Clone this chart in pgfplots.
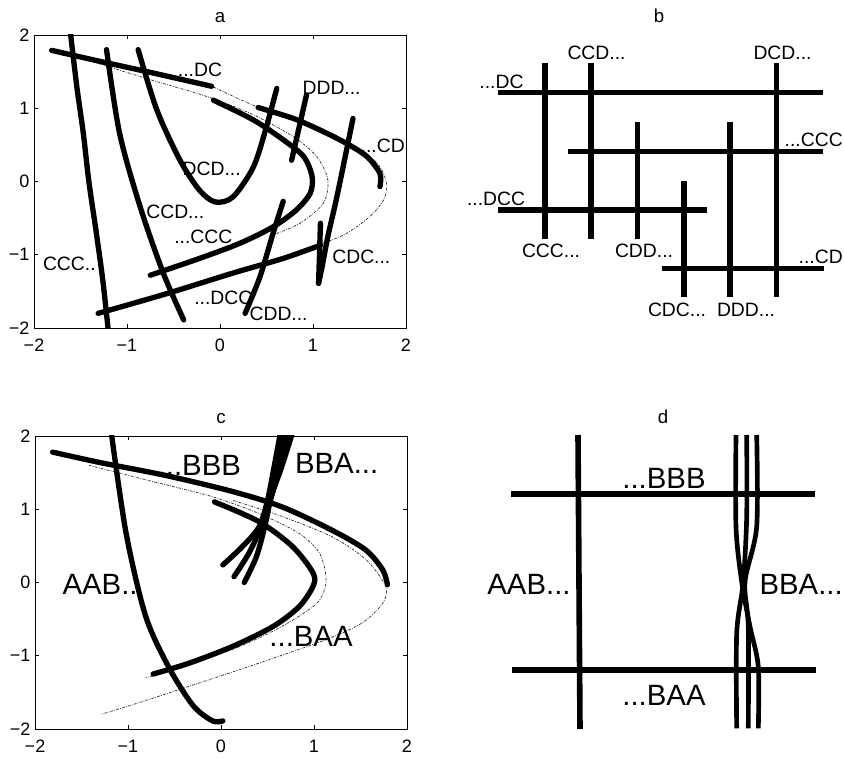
\documentclass[border=0pt]{standalone}
\usepackage{fontspec}
\setmainfont{Liberation Sans}
\usepackage{pgfplots}
\pgfplotsset{compat=1.18}
\tikzset{
 lab/.style={font=\fontsize{14.5}{16}\selectfont, inner sep=0pt},
 big/.style={font=\fontsize{22}{24}\selectfont, inner sep=0pt},
}
\begin{document}
\begin{tikzpicture}
\pgfplotsset{
 panel/.style={scale only axis, width=279pt, height=219.75pt,
   xmin=-2,xmax=2,ymin=-2,ymax=2,
   xtick={-2,-1,0,1,2}, ytick={-2,-1,0,1,2},
   xticklabels={−2,−1,0,1,2}, yticklabels={−2,−1,0,1,2},
   tick align=inside, major tick length=3pt,
   axis line style={line width=0.6pt},
   every tick/.style={black, line width=0.5pt},
   ticklabel style={font=\fontsize{13.5}{15}\selectfont},
   xticklabel style={yshift=-4.5pt},
   title style={font=\fontsize{14}{16}\selectfont},
   axis on top},
 hidden/.style={scale only axis, width=279pt, height=219.75pt, hide axis,
   y dir=reverse, clip=false,
   title style={font=\fontsize{14}{16}\selectfont}},
 thk/.style={black, line width=4pt, line cap=round, line join=round, no marks},
 bar/.style={black, line width=3.9pt, line cap=butt, no marks},
 thn/.style={black!80, line width=0.55pt, dash pattern=on 2pt off 1pt on 0.6pt off 1pt, no marks},
}
% ---------------- panel a ----------------
\begin{axis}[panel, at={(25.5pt,-26.25pt)}, anchor=north west, title={a}]
\addplot[thn, smooth] coordinates {(-1.43,1.66) (-0.75,1.39) (-0.14,1.16) (0.36,0.91) (0.79,0.61) (1.04,0.34) (1.16,0.02) (1.11,-0.30) (0.86,-0.57) (0.57,-0.73)};
\addplot[thn, smooth] coordinates {(-0.07,1.29) (0.36,1.04) (0.86,0.82) (1.40,0.52) (1.69,0.25) (1.79,-0.02) (1.76,-0.25) (1.61,-0.48) (1.36,-0.71) (1.10,-0.85)};
\addplot[thk, smooth] coordinates {(-1.81,1.79) (-1.29,1.64) (-0.75,1.49) (-0.09,1.30)};
\addplot[thk, smooth] coordinates {(0.41,1.01) (0.79,0.86) (1.08,0.70) (1.36,0.52) (1.58,0.34) (1.72,0.11) (1.72,-0.07)};
\addplot[thk, smooth] coordinates {(-0.07,1.11) (0.36,0.84) (0.68,0.57) (0.90,0.34) (0.99,0.07) (0.97,-0.16) (0.82,-0.39) (0.57,-0.62) (0.22,-0.84) (-0.22,-1.05) (-0.75,-1.28)};
\addplot[thk, smooth] coordinates {(-1.31,-1.80) (-0.57,-1.53) (0.14,-1.25) (0.68,-1.05) (1.08,-0.87)};
\addplot[thk, smooth] coordinates {(-1.61,2.05) (-1.54,1.3) (-1.47,0.66) (-1.41,0.0) (-1.33,-0.70) (-1.26,-1.35) (-1.20,-2.05)};
\addplot[thk, smooth] coordinates {(-1.22,1.80) (-1.08,0.66) (-0.86,-0.34) (-0.61,-1.25) (-0.39,-1.89)};
\addplot[thk, smooth] coordinates {(-0.88,1.80) (-0.68,0.98) (-0.43,0.29) (-0.22,-0.12) (-0.05,-0.28) (0.14,-0.21) (0.36,0.20) (0.50,0.75) (0.61,1.27)};
\addplot[thk] coordinates {(0.93,1.18) (0.77,0.29)};
\addplot[thk, smooth] coordinates {(0.68,-0.27) (0.57,-0.71) (0.43,-1.30) (0.27,-1.80)};
\addplot[thk, smooth] coordinates {(1.43,0.86) (1.34,0.30) (1.25,-0.25) (1.16,-0.75) (1.10,-1.15) (1.06,-1.39)};
\addplot[thk] coordinates {(1.06,-1.39) (1.07,-1.0) (1.08,-0.57)};
\node[lab] at (axis cs:-0.215,1.52) {...DC};
\node[lab] at (axis cs:1.20,1.285) {DDD...};
\node[lab] at (axis cs:1.75,0.49) {...CD};
\node[lab] at (axis cs:-0.09,0.17) {DCD...};
\node[lab] at (axis cs:-0.48,-0.41) {CCD...};
\node[lab] at (axis cs:-0.18,-0.76) {...CCC};
\node[lab] at (axis cs:-1.62,-1.12) {CCC..};
\node[lab] at (axis cs:1.52,-1.03) {CDC...};
\node[lab] at (axis cs:0.036,-1.585) {...DCC};
\node[lab] at (axis cs:0.63,-1.81) {CDD...};
\end{axis}
% ---------------- panel b ----------------
\begin{axis}[hidden, at={(354.75pt,-26.25pt)}, anchor=north west, title={b},
  xmin=473, xmax=845, ymin=35, ymax=328]
\addplot[bar] coordinates {(498,92.7) (823,92.7)};
\addplot[bar] coordinates {(568,151.7) (823,151.7)};
\addplot[bar] coordinates {(498,210) (707,210)};
\addplot[bar] coordinates {(662,268.3) (824,268.3)};
\addplot[bar] coordinates {(545,63) (545,239)};
\addplot[bar] coordinates {(591,63) (591,239)};
\addplot[bar] coordinates {(637.3,122) (637.3,239)};
\addplot[bar] coordinates {(684,181) (684,297)};
\addplot[bar] coordinates {(730,122) (730,297)};
\addplot[bar] coordinates {(776.7,63) (776.7,297)};
\node[lab] at (axis cs:501.5,81.5) {...DC};
\node[lab] at (axis cs:596.5,52.5) {CCD...};
\node[lab] at (axis cs:782.5,52.5) {DCD...};
\node[lab, anchor=east] at (axis cs:843,140) {...CCC};
\node[lab] at (axis cs:496,198.5) {...DCC};
\node[lab] at (axis cs:551,250.5) {CCC...};
\node[lab] at (axis cs:644,250.5) {CDD...};
\node[lab, anchor=east] at (axis cs:843,256.5) {...CD};
\node[lab] at (axis cs:677,309.5) {CDC...};
\node[lab] at (axis cs:746,309.5) {DDD...};
\end{axis}
% ---------------- panel c ----------------
\begin{axis}[panel, at={(26.25pt,-327pt)}, anchor=north west, title={c}]
\addplot[thn, smooth] coordinates {(-1.42,1.60) (-0.77,1.39) (-0.09,1.17) (0.41,0.94) (0.84,0.67) (1.06,0.40) (1.13,0.04) (1.06,-0.24) (0.84,-0.46) (0.52,-0.69) (0.13,-0.91) (-0.38,-1.14) (-0.81,-1.30)};
\addplot[thn, smooth] coordinates {(0.13,1.12) (0.66,0.90) (1.20,0.62) (1.56,0.31) (1.77,-0.05) (1.74,-0.28) (1.52,-0.55) (1.13,-0.78) (0.48,-1.07) (-0.23,-1.37) (-0.88,-1.64) (-1.29,-1.80)};
\addplot[thk, smooth] coordinates {(-1.81,1.78) (-1.31,1.64) (-0.59,1.46) (0.13,1.24) (0.66,1.03) (1.20,0.71) (1.56,0.44) (1.74,0.17) (1.79,-0.03)};
\addplot[thk, smooth] coordinates {(-0.07,1.10) (0.41,0.83) (0.77,0.49) (0.99,0.13) (0.99,-0.05) (0.84,-0.33) (0.56,-0.60) (0.13,-0.87) (-0.34,-1.10) (-0.73,-1.25)};
\addplot[thk, smooth] coordinates {(-1.18,2.05) (-1.02,0.67) (-0.81,-0.46) (-0.56,-1.16) (-0.30,-1.68) (-0.09,-1.89) (0.02,-1.89)};
\addplot[thk, smooth] coordinates {(0.02,0.24) (0.23,0.49) (0.41,0.76) (0.50,1.12) (0.57,1.57) (0.64,2.05)};
\addplot[thk, smooth] coordinates {(0.14,0.08) (0.30,0.40) (0.43,0.76) (0.52,1.17) (0.61,1.57) (0.70,2.05)};
\addplot[thk, smooth] coordinates {(0.25,0.0) (0.38,0.35) (0.47,0.76) (0.54,1.17) (0.65,1.57) (0.77,2.05)};
\addplot[thk, smooth] coordinates {(0.48,0.9) (0.51,1.12) (0.59,1.57) (0.67,2.05)};
\addplot[thk, smooth] coordinates {(0.48,0.9) (0.53,1.12) (0.63,1.57) (0.735,2.05)};
\node[big] at (axis cs:-0.233,1.593) {...BBB};
\node[big] at (axis cs:1.244,1.629) {BBA...};
\node[big] at (axis cs:-1.30,-0.03) {AAB..};
\node[big] at (axis cs:0.968,-0.733) {...BAA};
\end{axis}
% ---------------- panel d ----------------
\begin{axis}[hidden, at={(357.75pt,-327pt)}, anchor=north west, title={d},
  xmin=477, xmax=849, ymin=436, ymax=729]
\addplot[bar] coordinates {(511,494) (815,494)};
\addplot[bar] coordinates {(512,670) (816,670)};
\addplot[bar, line width=4.2pt] coordinates {(578,435) (580,729)};
\addplot[bar, line width=3.5pt, smooth] coordinates {(736,435) (736,527) (741.7,581.7) (750,626.7) (758.3,666.7) (758.3,728.3)};
\addplot[bar, line width=3.5pt, smooth] coordinates {(746.7,435) (746.7,516.7) (743.3,581.7) (736.7,633.3) (736.7,728.3)};
\addplot[bar, line width=3.5pt, smooth] coordinates {(756.7,435) (756.7,526.7) (745,581.7) (748.3,626.7) (748.3,728.3)};
\node[big] at (axis cs:664,478) {...BBB};
\node[big] at (axis cs:664,695) {...BAA};
\node[big] at (axis cs:529,584) {AAB...};
\node[big, anchor=east] at (axis cs:843,584) {BBA...};
\end{axis}
\pgfresetboundingbox
\path[use as bounding box] (0pt,0pt) rectangle (633pt,-569.25pt);
\end{tikzpicture}
\end{document}
